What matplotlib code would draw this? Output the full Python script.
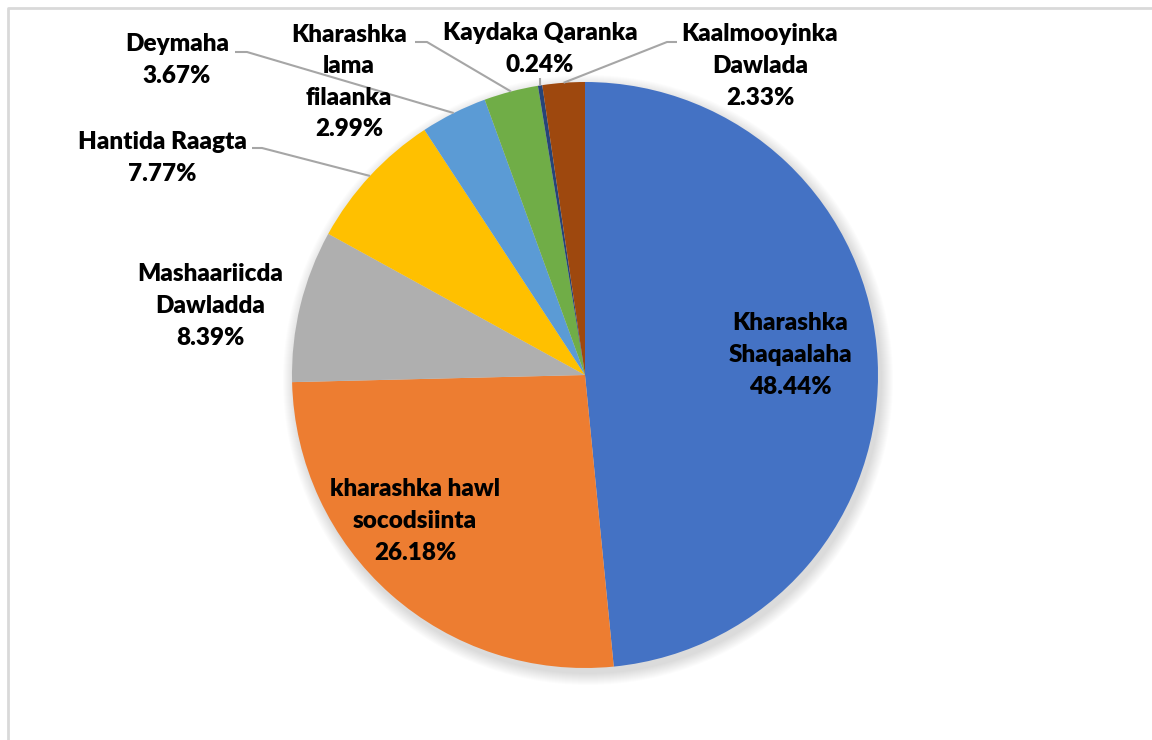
import numpy as np
import matplotlib.pyplot as plt
from matplotlib.patches import Circle

# slice data (clockwise from 12 o'clock)
labels = ["Kharashka\nShaqaalaha", "kharashka hawl\nsocodsiinta", "Mashaariicda\nDawladda",
          "Hantida Raagta", "Deymaha", "Kharashka\nlama\nfilaanka", "Kaydaka Qaranka",
          "Kaalmooyinka\nDawlada"]
shares = [48.44, 26.18, 8.39, 7.77, 3.67, 2.99, 0.24, 2.33]
colors = ["#4472C4", "#ED7D31", "#AFAFAF", "#FFC000", "#5B9BD5", "#70AD47", "#264478", "#9E480E"]

# label layout in pixel space (x, y from top), plus leader elbow (None = inside, no leader)
label_pos = [(790, 355), (415, 521), (210, 306), (162, 158), (177, 60), (349, 82), (540, 49), (760, 66)]
elbows = [None, None, None, [(252, 148), (262, 148)], [(235, 52), (247, 52)],
          [(415, 42), (427, 42)], [(540, 78)], [(677, 42), (667, 42)]]

W, H = 1152, 740
cx, cy, R = 585, 375, 293

fig = plt.figure(figsize=(W / 100, H / 100), dpi=100)
ax = fig.add_axes([0, 0, 1, 1])

# soft shadow under the pie
for k in range(12):
    ax.add_patch(Circle((cx + 3, H - cy - 5), R + 12 - k, color="black", alpha=0.012, lw=0))

wedges, _ = ax.pie(shares, colors=colors, startangle=90, counterclock=False,
                   center=(cx, H - cy), radius=R, frame=True,
                   wedgeprops=dict(linewidth=0))

font = dict(family=["Lato", "DejaVu Sans"], fontweight="heavy", fontsize=17.5, color="black")
for lab, val, (lx, ly), w, el in zip(labels, shares, label_pos, wedges, elbows):
    ax.text(lx, H - ly, f"{lab}\n{val:.2f}%", ha="center", va="center",
            linespacing=1.53, **font)
    if el is not None:
        ang = np.deg2rad((w.theta1 + w.theta2) / 2)
        px = cx + R * np.cos(ang)
        py = (H - cy) + R * np.sin(ang)
        xs = [p[0] for p in el] + [px]
        ys = [H - p[1] for p in el] + [py]
        ax.plot(xs, ys, color="#A6A6A6", lw=1.5, solid_capstyle="butt")

# chart border (Excel style)
ax.plot([7.5, 7.5, W + 5], [0, H - 7.5, H - 7.5], color="#D9D9D9", lw=2)

ax.set_xlim(0, W)
ax.set_ylim(0, H)
ax.set_aspect("equal")
ax.axis("off")

fig.savefig("out.png", dpi=100, facecolor="white")
